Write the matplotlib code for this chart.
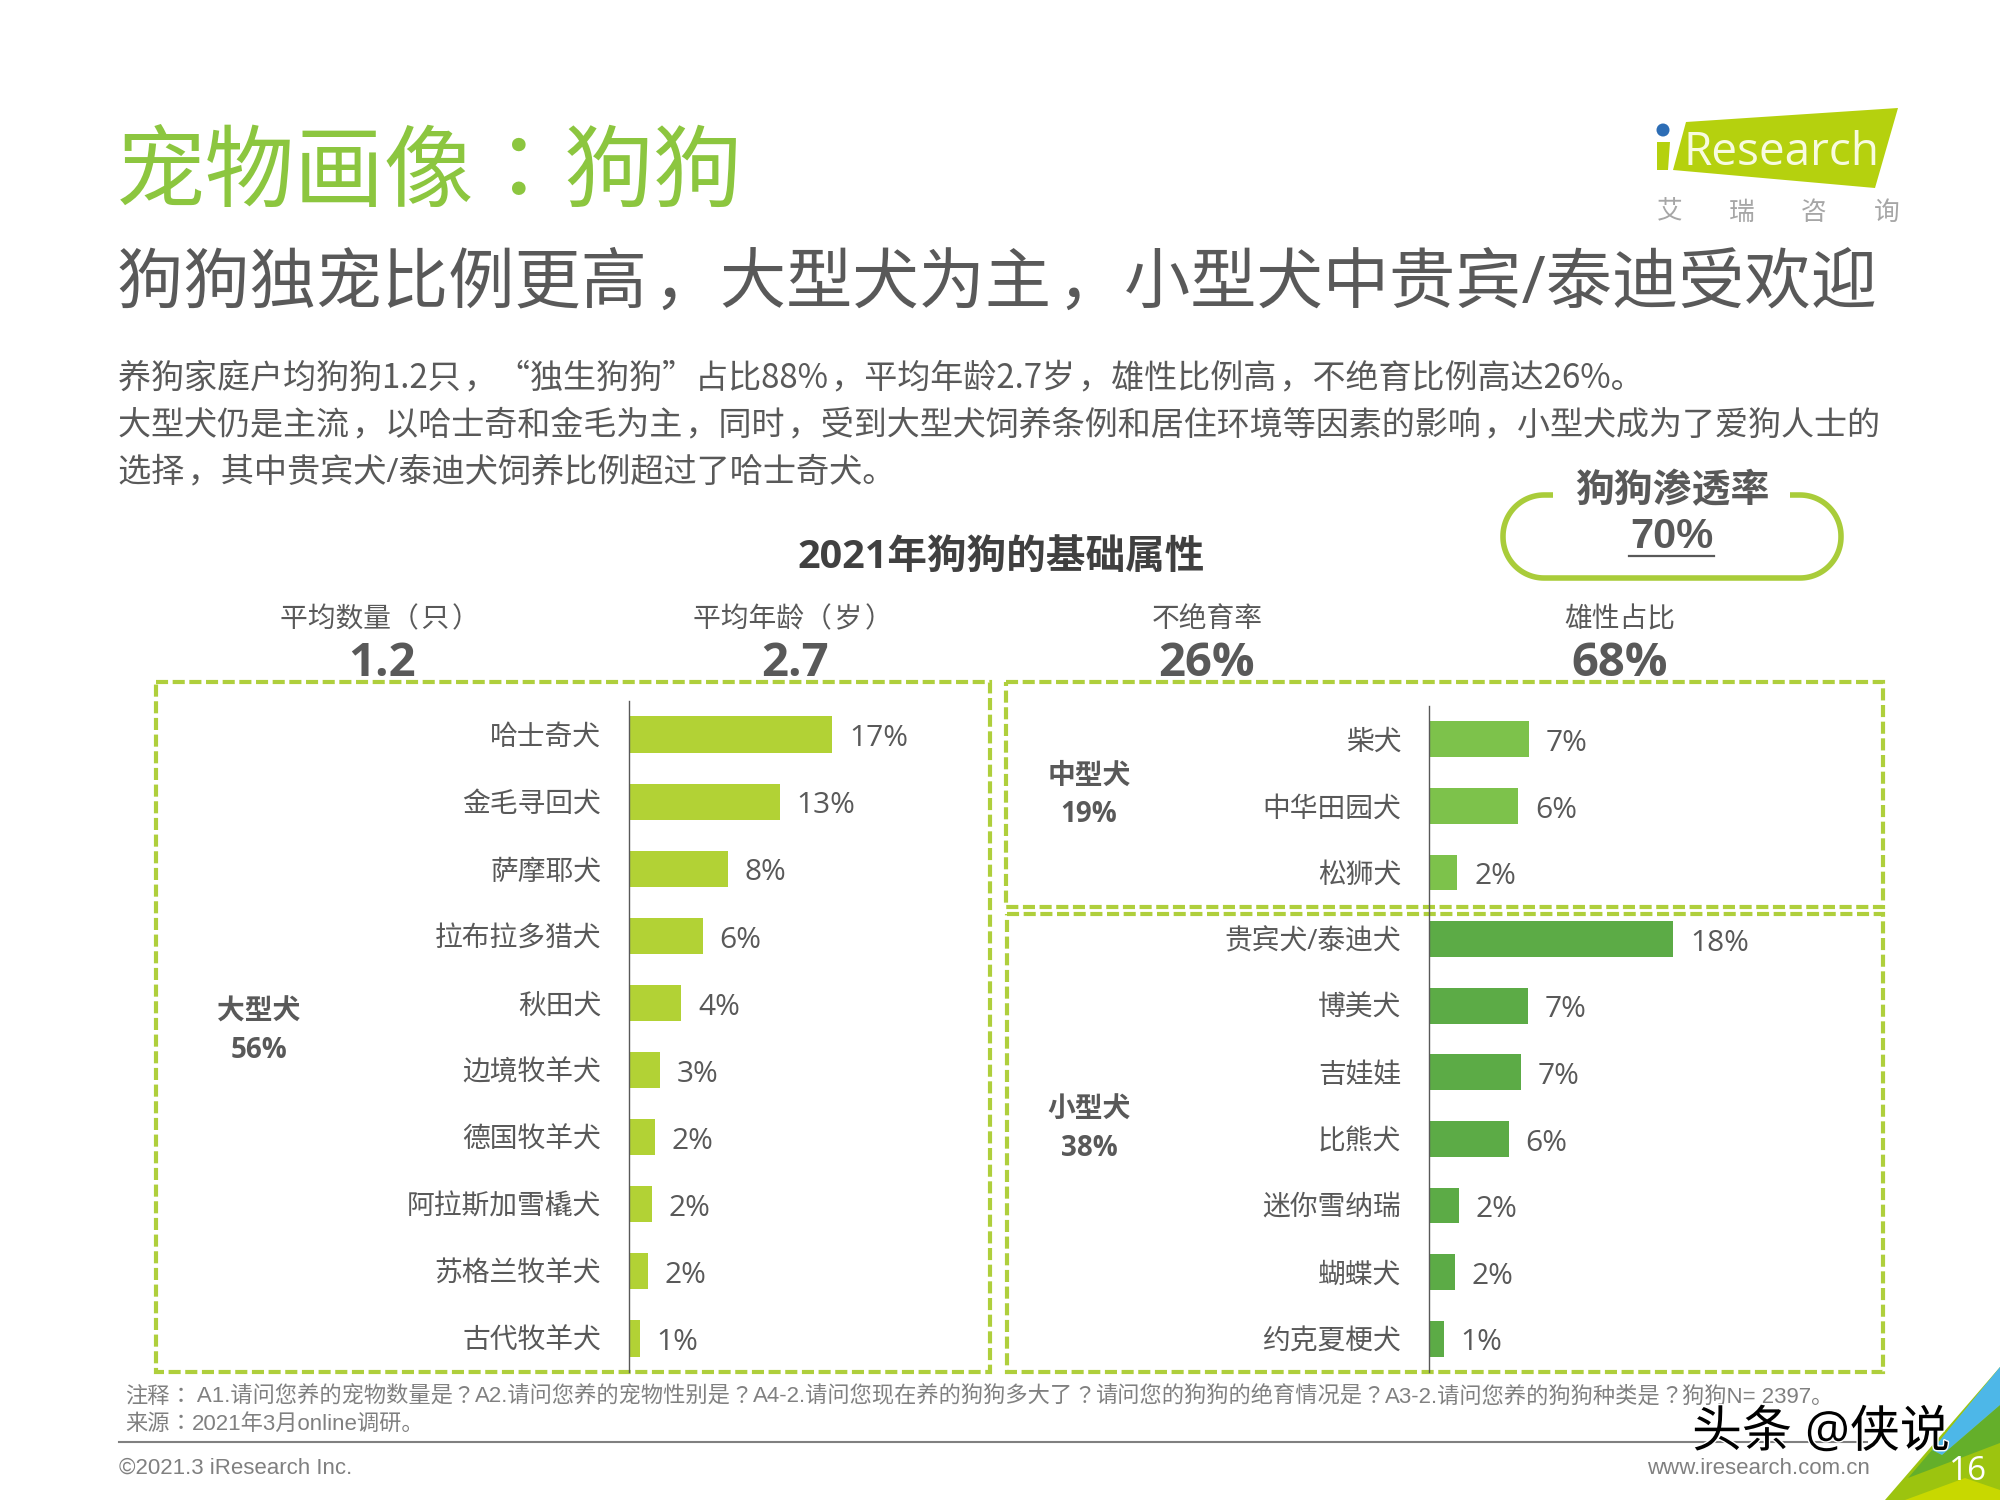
import re
import numpy as np
import matplotlib
matplotlib.use("Agg")
import matplotlib.pyplot as plt
import matplotlib.patheffects as pe
from matplotlib.patches import Polygon, Rectangle, Circle

plt.rcParams['font.family'] = ['Open Sans', 'Noto Sans CJK SC', 'DejaVu Sans']

# data
large_names = ['哈士奇犬', '金毛寻回犬', '萨摩耶犬', '拉布拉多猎犬', '秋田犬', '边境牧羊犬',
               '德国牧羊犬', '阿拉斯加雪橇犬', '苏格兰牧羊犬', '古代牧羊犬']
large_values = [17.1, 12.7, 8.3, 6.2, 4.4, 2.6, 2.2, 1.9, 1.6, 0.9]
large_labels = ['17%', '13%', '8%', '6%', '4%', '3%', '2%', '2%', '2%', '1%']

medium_names = ['柴犬', '中华田园犬', '松狮犬']
medium_values = [7.4, 6.6, 2.1]
medium_labels = ['7%', '6%', '2%']

small_names = ['贵宾犬/泰迪犬', '博美犬', '吉娃娃', '比熊犬', '迷你雪纳瑞', '蝴蝶犬', '约克夏梗犬']
small_values = [18.1, 7.3, 6.8, 5.9, 2.2, 1.9, 1.1]
small_labels = ['18%', '7%', '7%', '6%', '2%', '2%', '1%']

stat_names = ['平均数量（\u200a只\u200a）', '平均年龄（\u200a岁\u200a）', '不绝育率', '雄性占比']
stat_values = ['1.2', '2.7', '26%', '68%']

GREEN_TITLE = '#8CC63F'
DARK = '#595959'
GREY = '#808080'
BOX = '#AFCF3C'
C_LARGE = '#B2D235'
C_MEDIUM = '#7DC24B'
C_SMALL = '#5CAB46'
FOOT_FONT = ['Liberation Sans', 'Noto Sans CJK SC']
# hair space pushes the comma toward the middle of its box, as in the reference
HS = '\u200a'

fig = plt.figure(figsize=(20, 15), dpi=100, facecolor='white')
renderer = fig.canvas.get_renderer()


def px_axes(x0, y0, x1, y1):
    # axes placed with pixel edges, y counted from the top
    return fig.add_axes([x0 / 2000, 1 - y1 / 1500, (x1 - x0) / 2000, (y1 - y0) / 1500],
                        facecolor='none')


bg = fig.add_axes([0, 0, 1, 1])
bg.set_xlim(0, 2000)
bg.set_ylim(1500, 0)
bg.axis('off')


def text_width(s, **kw):
    # flanking characters keep the side bearings and spaces in the measure
    a = bg.text(0, 0, '口' + s + '口', **kw)
    b = bg.text(0, 0, '口口', **kw)
    w = a.get_window_extent(renderer).width - b.get_window_extent(renderer).width
    a.remove()
    b.remove()
    return w


def punct_text(x, y, s, fontsize, color, family=None):
    # the traditional font keeps the colon and question mark in the middle of their box
    em = fontsize / 0.72
    baseline = y + 0.26 * em
    pos = x
    for p in [p for p in re.split('([：？])', s) if p]:
        if p in '：？':
            bg.text(pos, baseline, p, fontsize=fontsize, color=color, va='baseline', family='Noto Sans CJK TC')
            pos += em
        else:
            kw = {'family': family} if family else {}
            bg.text(pos, baseline, p, fontsize=fontsize, color=color, va='baseline', **kw)
            pos += text_width(p, fontsize=fontsize, **kw)


# header text
punct_text(116, 177, '宠物画像：狗狗', 64.5, GREEN_TITLE)
bg.text(117, 286, f'狗狗独宠比例更高{HS}，大型犬为主{HS}，小型犬中贵宾/泰迪受欢迎', fontsize=47.7, color=DARK, va='center')
bg.text(118, 378, f'养狗家庭户均狗狗1.2只{HS}，“独生狗狗”占比88%{HS}，平均年龄2.7岁{HS}，雄性比例高{HS}，不绝育比例高达26%。',
        fontsize=23.8, color=DARK, va='center', family=['Noto Sans CJK SC', 'Open Sans', 'DejaVu Sans'])
bg.text(118, 426, f'大型犬仍是主流{HS}，以哈士奇和金毛为主{HS}，同时{HS}，受到大型犬饲养条例和居住环境等因素的影响{HS}，小型犬成为了爱狗人士的',
        fontsize=23.8, color=DARK, va='center')
bg.text(118, 473, f'选择{HS}，其中贵宾犬/泰迪犬饲养比例超过了哈士奇犬。', fontsize=23.9, color=DARK, va='center')

bg.text(1001, 557, '2021年狗狗的基础属性', fontsize=28.5, fontweight='bold', color='#404040', ha='center', va='center')

# logo
bg.add_patch(Polygon([(1686, 122), (1898, 108), (1875, 188), (1673, 170)], color='#B5D10E', lw=0))
bg.add_patch(Polygon([(1657, 142), (1670, 142), (1668, 170), (1657, 170)], color='#B5D10E', lw=0))
bg.add_patch(Circle((1663, 130), 6.5, color='#2D6DB5', lw=0))
bg.text(1683, 153, 'Research', fontsize=33, color='#F8FBE0', va='center')
for x, ch in zip([1670, 1742, 1814, 1887], '艾瑞咨询'):
    bg.text(x, 213, ch, fontsize=18.5, color='#A6A6A6', ha='center', va='center')

# penetration pill
r = 41
t = np.linspace(0, np.pi / 2, 30)
left_x = np.r_[1553, 1503 + r - r * np.sin(t), 1503 + r - r * np.cos(t), 1503 + r]
left_y = np.r_[495, 536 - r * np.cos(t), 537 + r * np.sin(t), 578]
right_x = np.r_[1841 - r + r * np.sin(t), 1841 - r + r * np.cos(t), 1790]
right_y = np.r_[537 + r * np.cos(t), 536 - r * np.sin(t), 495]
bg.plot(np.r_[left_x, right_x], np.r_[left_y, right_y], color='#A9CC3A', lw=4, solid_capstyle='butt')
bg.text(1672, 492, '狗狗渗透率', fontsize=28, fontweight='bold', color=DARK, ha='center', va='center')
bg.text(1672, 537, '70%', fontsize=30, fontweight='bold', color=DARK, ha='center', va='center', family=FOOT_FONT)
bg.plot([1629, 1714], [556, 556], color=DARK, lw=1.6)

# four stats above the boxes
for x, vx, name, val in zip([380, 793, 1207, 1620], [382, 795, 1207, 1620], stat_names, stat_values):
    bg.text(x, 620, name, fontsize=20, color=DARK, ha='center', va='center')
    bg.text(vx, 664, val, fontsize=34, fontweight='bold', color=DARK, ha='center', va='center')

# dashed boxes
for x0, y0, x1, y1 in [(156, 682, 990, 1372), (1006, 682, 1883, 907), (1007, 914, 1883, 1372)]:
    bg.add_patch(Rectangle((x0, y0), x1 - x0, y1 - y0, fill=False, edgecolor=BOX, lw=3,
                           linestyle=(0, (2.9, 1.1))))

# group labels
for x, y, txt in [(259, 1012, '大型犬'), (259, 1051, '56%'), (1089, 776, '中型犬'), (1089, 815, '19%'),
                  (1089, 1109, '小型犬'), (1089, 1148, '38%')]:
    bg.text(x, y, txt, fontsize=20, fontweight='bold', color=DARK, ha='center', va='center')

# footer
punct_text(125, 1397, '注释： A1.请问您养的宠物数量是？A2.请问您养的宠物性别是？A4-2.请问您现在养的狗狗多大了？请问您的狗狗的绝育情况是？A3-2.请问您养的狗狗种类是？狗狗N= 2397。',
           16, GREY, FOOT_FONT)
punct_text(125, 1424, '来源：2021年3月online调研。', 16, GREY, FOOT_FONT)
bg.plot([119, 1867], [1442, 1442], color=GREY, lw=1.5)
bg.text(119, 1468, '©2021.3 iResearch Inc.', fontsize=16, color=GREY, va='center', family='Liberation Sans')
bg.text(1870, 1468, 'www.iresearch.com.cn', fontsize=16, color=GREY, ha='right', va='center', family='Liberation Sans')

# corner decoration
bg.add_patch(Polygon([(2000, 1367), (1885, 1500), (2000, 1500)], color='#9CC40F', lw=0))
bg.add_patch(Polygon([(2000, 1405), (1942, 1455), (1932, 1450), (1908, 1478), (2000, 1443)], color='#64AF2A', lw=0))
bg.add_patch(Polygon([(2000, 1367), (1932, 1450), (1942, 1455), (2000, 1405)], color='#4DB7E8', lw=0))
bg.add_patch(Polygon([(1905, 1500), (1965, 1478), (2000, 1490), (2000, 1500)], color='#C8D800', lw=0))
bg.text(1968, 1472, '16', fontsize=24, color='white', ha='center', va='center')

# watermark
bg.text(1692, 1434, '头条 @侠说', fontsize=36, color='black', va='center',
        path_effects=[pe.withStroke(linewidth=2, foreground='white')], zorder=5)


def draw_bars(ax, names, values, labels, colors, px_per_unit, x_span):
    pos = np.arange(len(names))
    ax.barh(pos, values, height=0.54, color=colors)
    ax.set_xlim(0, x_span / px_per_unit)
    ax.set_ylim(len(names) - 0.5, -0.5)
    ax.set_yticks(pos)
    ax.set_yticklabels(names, fontsize=20, color=DARK)
    ax.tick_params(axis='y', length=0, pad=20)
    ax.set_xticks([])
    for s in ['top', 'right', 'bottom']:
        ax.spines[s].set_visible(False)
    ax.spines['left'].set_color(DARK)
    ax.spines['left'].set_linewidth(1)
    for v, p, lab in zip(values, pos, labels):
        ax.annotate(lab, (v, p), xytext=(12, -3), textcoords='offset points',
                    fontsize=21.5, color=DARK, va='center')


ax_left = px_axes(629, 701, 990, 1372)
draw_bars(ax_left, large_names, large_values, large_labels, C_LARGE, 11.9, 361)

ax_right = px_axes(1429, 706, 1883, 1372)
draw_bars(ax_right, medium_names + small_names, medium_values + small_values, medium_labels + small_labels,
          [C_MEDIUM] * len(medium_names) + [C_SMALL] * len(small_names), 13.5, 454)

fig.savefig('out.png', dpi=100)
